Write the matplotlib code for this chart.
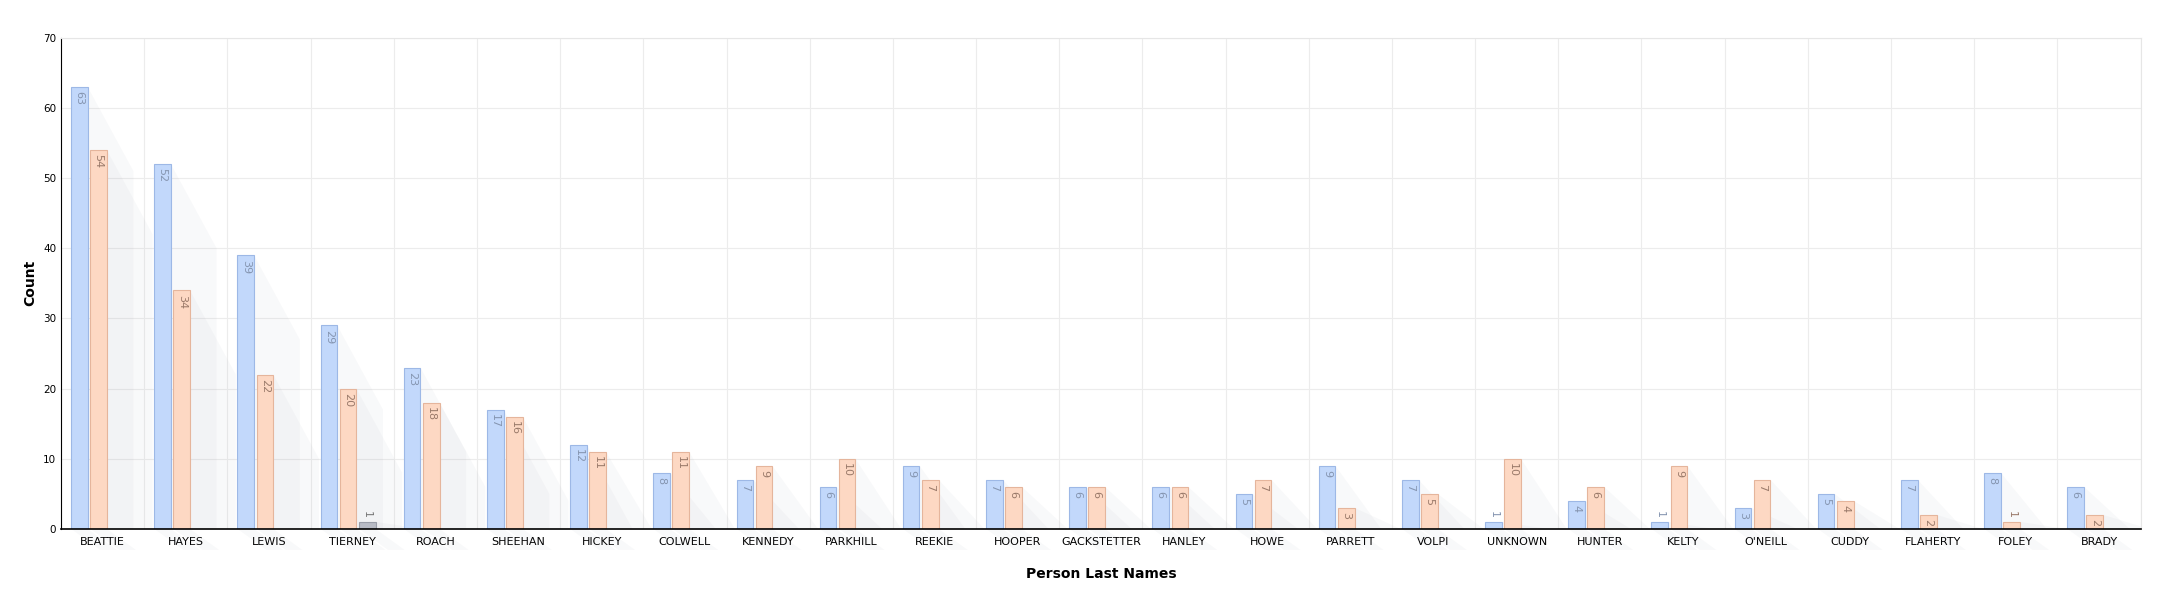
import matplotlib
matplotlib.use("Agg")
import matplotlib.pyplot as plt
from matplotlib.patches import Polygon
import numpy as np

categories = ["BEATTIE","HAYES","LEWIS","TIERNEY","ROACH","SHEEHAN","HICKEY","COLWELL","KENNEDY","PARKHILL",
              "REEKIE","HOOPER","GACKSTETTER","HANLEY","HOWE","PARRETT","VOLPI","UNKNOWN","HUNTER","KELTY",
              "O'NEILL","CUDDY","FLAHERTY","FOLEY","BRADY"]
series_a = [63,52,39,29,23,17,12,8,7,6,9,7,6,6,5,9,7,1,4,1,3,5,7,8,6]
series_b = [54,34,22,20,18,16,11,11,9,10,7,6,6,6,7,3,5,10,6,9,7,4,2,1,2]
series_c = [0,0,0,1,0,0,0,0,0,0,0,0,0,0,0,0,0,0,0,0,0,0,0,0,0]

fig = plt.figure(figsize=(21.82, 6.01), dpi=100)
ax = fig.add_axes([0.028, 0.12, 0.953, 0.817])
x = np.arange(len(categories))
w = 0.2
specs = [(series_a, -0.28, "#c2d8fb", "#9db8e6", "#8595b0"),
         (series_b, -0.05, "#fdd8c3", "#e5b59c", "#9a7a6a"),
         (series_c, 0.18, "#b9bcc6", "#9a9ea9", "#777777")]
for vals, off, fc, ec, tc in specs:
    for xi, v in zip(x, vals):
        if v <= 0:
            continue
        xr = xi + off + w / 2
        L = 0.55
        drop = 12
        sh = Polygon([(xr, v), (xr + L, max(v - drop, 0)), (xr + L, 0), (xr, 0)],
                     closed=True, facecolor="#8890a0", alpha=0.05, edgecolor="none", zorder=1)
        ax.add_patch(sh)
        sh2 = Polygon([(xr - w, 0), (xr, 0), (xr + 0.35, -3), (xr - w + 0.35, -3)],
                      closed=True, facecolor="#8890a0", alpha=0.05, edgecolor="none",
                      zorder=1, clip_on=False)
        ax.add_patch(sh2)
        ax.bar(xi + off, v, width=w, color=fc, edgecolor=ec, linewidth=0.8, zorder=2)
        if v >= 2:
            ax.text(xi + off, v - 0.6, str(v), rotation=-90, ha="center", va="top",
                    fontsize=8, color=tc, zorder=3)
        else:
            ax.text(xi + off, v + 0.6, str(v), rotation=-90, ha="center", va="bottom",
                    fontsize=8, color=tc, zorder=3)

ax.set_xlim(-0.5, len(categories) - 0.5)
ax.set_ylim(0, 70)
ax.set_yticks(range(0, 71, 10))
ax.set_xticks(x)
ax.set_xticklabels(categories, fontsize=8)
ax.tick_params(axis="y", labelsize=7.5, length=0)
ax.tick_params(axis="x", length=0, pad=6)
ax.set_xticks(np.arange(-0.5, len(categories), 1), minor=True)
ax.tick_params(axis="x", which="minor", length=0)
ax.grid(True, which="minor", axis="x", color="#ececec", linewidth=0.8, zorder=0)
ax.grid(True, which="major", axis="y", color="#ececec", linewidth=0.8, zorder=0)
ax.set_axisbelow(True)
for s in ["top", "right"]:
    ax.spines[s].set_color("#e6e6e6")
ax.spines["left"].set_color("#000000")
ax.spines["bottom"].set_color("#000000")
ax.spines["bottom"].set_linewidth(1.2)
ax.set_ylabel("Count", fontsize=10, fontweight="bold")
ax.set_xlabel("Person Last Names", fontsize=10, fontweight="bold", labelpad=14)
fig.savefig("out.png", dpi=100, facecolor="white")
